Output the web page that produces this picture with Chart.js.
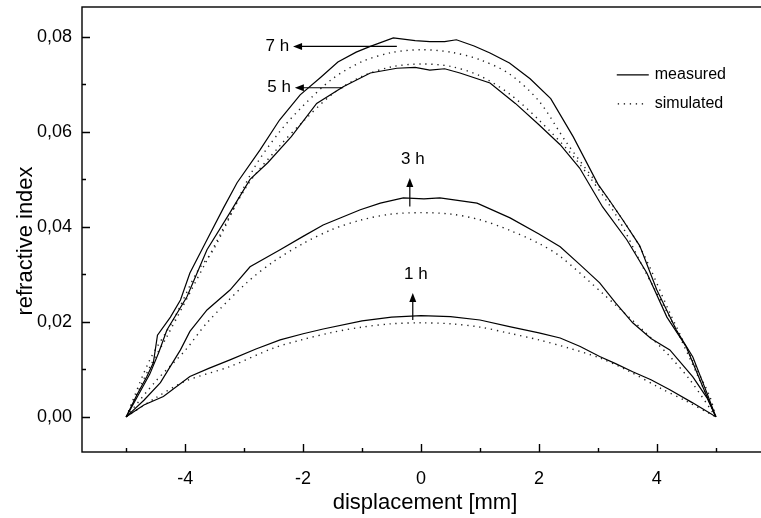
<!DOCTYPE html>
<html>
<head>
<meta charset="utf-8">
<script src="https://cdn.jsdelivr.net/npm/chart.js@4"></script>
<style>
  html, body { margin: 0; padding: 0; background: #fff; overflow: hidden; }
  #wrap { position: relative; width: 770px; height: 518px; }
</style>
</head>
<body>
<div id="wrap"><canvas id="c"></canvas></div>
<script>
// measured curves (solid)
const m7x = [-5, -4.82, -4.65, -4.54, -4.47, -4.25, -4.08, -3.92, -3.63, -3.35, -3.12, -2.73, -2.4, -2.05, -1.7, -1.41, -1.1, -0.86, -0.47, -0.1, 0.15, 0.4, 0.6, 0.9, 1.17, 1.5, 1.85, 2.2, 2.58, 3.0, 3.2, 3.42, 3.71, 4.0, 4.33, 4.61, 4.85, 5];
const m7y = [0, 0.0046, 0.0085, 0.0114, 0.0172, 0.021, 0.0246, 0.0303, 0.0373, 0.044, 0.0493, 0.0562, 0.0625, 0.0678, 0.0715, 0.0747, 0.0768, 0.078, 0.0798, 0.0792, 0.079, 0.079, 0.0794, 0.0781, 0.0766, 0.0745, 0.0712, 0.067, 0.059, 0.049, 0.0455, 0.0415, 0.036, 0.0267, 0.0183, 0.0126, 0.005, 0];
const m5x = [-5, -4.8, -4.6, -4.45, -4.31, -3.97, -3.63, -3.24, -2.9, -2.6, -2.2, -1.77, -1.32, -0.86, -0.41, -0.1, 0.15, 0.4, 0.66, 1.17, 1.6, 2.0, 2.36, 2.69, 3.08, 3.49, 3.83, 4.17, 4.5, 4.78, 5];
const m5y = [0, 0.0045, 0.009, 0.0135, 0.0183, 0.0253, 0.0352, 0.043, 0.05, 0.0535, 0.059, 0.066, 0.0695, 0.0724, 0.0734, 0.0736, 0.073, 0.0733, 0.0724, 0.0703, 0.066, 0.0615, 0.0573, 0.0524, 0.0442, 0.0373, 0.0303, 0.021, 0.0147, 0.0063, 0];
const m3x = [-5, -4.7, -4.42, -4.08, -3.92, -3.63, -3.24, -2.9, -2.39, -2.0, -1.66, -1.03, -0.69, -0.3, 0.05, 0.32, 0.95, 1.51, 2.0, 2.36, 2.7, 3.03, 3.3, 3.59, 3.9, 4.22, 4.61, 4.85, 5];
const m3y = [0, 0.0035, 0.0072, 0.0141, 0.018, 0.0225, 0.0267, 0.0316, 0.0352, 0.038, 0.0404, 0.0436, 0.045, 0.0461, 0.0459, 0.0461, 0.045, 0.0419, 0.0385, 0.0358, 0.032, 0.0282, 0.024, 0.0198, 0.0165, 0.0141, 0.0084, 0.004, 0];
const m1x = [-5, -4.7, -4.37, -3.92, -3.6, -3.24, -2.8, -2.39, -2.0, -1.66, -1.0, -0.5, 0, 0.5, 1.0, 1.5, 2.0, 2.36, 2.7, 3.03, 3.3, 3.59, 3.9, 4.22, 4.6, 5];
const m1y = [0, 0.0025, 0.0043, 0.0085, 0.0102, 0.012, 0.0143, 0.0162, 0.0175, 0.0185, 0.0202, 0.021, 0.0213, 0.0211, 0.0204, 0.019, 0.0177, 0.0166, 0.0148, 0.0127, 0.0112, 0.0095, 0.0078, 0.0057, 0.003, 0];

// simulated curves (dotted)
const s7x = [-5, -4.6, -4.2, -3.8, -3.52, -2.85, -2.4, -2.0, -1.5, -1.0, -0.5, 0, 0.5, 1.0, 1.5, 2.0, 2.47, 3.15, 3.71, 4.22, 4.6, 4.9, 5];
const s7y = [0, 0.012, 0.0204, 0.0305, 0.0352, 0.052, 0.06, 0.0655, 0.0712, 0.0748, 0.0767, 0.0773, 0.0768, 0.0752, 0.0722, 0.0665, 0.0577, 0.0463, 0.0358, 0.0219, 0.012, 0.0042, 0];
const s5x = [-5, -4.6, -4.31, -3.63, -2.96, -2.4, -2.0, -1.5, -1.0, -0.5, 0, 0.5, 1.0, 1.5, 2.0, 2.64, 3.32, 3.76, 4.33, 4.7, 5];
const s5y = [0, 0.0105, 0.0169, 0.033, 0.0485, 0.057, 0.0622, 0.068, 0.0717, 0.0737, 0.0743, 0.0738, 0.0718, 0.068, 0.0625, 0.054, 0.0422, 0.0316, 0.0183, 0.0085, 0];
const s3x = [-5, -4.5, -4.0, -3.63, -2.96, -2.5, -2.0, -1.5, -1.0, -0.5, 0, 0.5, 1.0, 1.5, 2.0, 2.36, 3.08, 3.76, 4.2, 4.56, 5];
const s3y = [0, 0.0075, 0.014, 0.0198, 0.0282, 0.0327, 0.0365, 0.0395, 0.0415, 0.0427, 0.043, 0.0427, 0.0415, 0.0393, 0.0365, 0.0338, 0.026, 0.0183, 0.013, 0.0078, 0];
const s1x = [-5, -4.5, -4.0, -3.24, -2.5, -2.0, -1.5, -1.0, -0.5, 0, 0.5, 1.0, 1.5, 2.0, 2.5, 3.03, 3.5, 4.05, 4.5, 5];
const s1y = [0, 0.004, 0.0075, 0.0106, 0.0145, 0.0163, 0.0178, 0.0189, 0.0196, 0.0198, 0.0196, 0.0189, 0.0176, 0.0162, 0.0145, 0.0124, 0.0098, 0.0061, 0.0033, 0];

// arrow notes (data units)
const noteText = ["7 h", "5 h", "3 h", "1 h"];
const noteFrom = [[-0.41, 0.078], [-1.32, 0.0693], [-0.19, 0.0443], [-0.14, 0.0204]];
const noteTo = [[-2.17, 0.078], [-2.14, 0.0693], [-0.19, 0.0503], [-0.14, 0.0261]];

const legendText = ["measured", "simulated"];
const FONT = '"Liberation Sans", Arial, Helvetica, sans-serif';

const pts = (xs, ys) => xs.map((v, i) => ({ x: v, y: ys[i] }));
const solid = (xs, ys) => ({ data: pts(xs, ys), borderColor: "#000", borderWidth: 1.2, pointRadius: 0, showLine: true, tension: 0 });
const dotted = (xs, ys) => ({ data: pts(xs, ys), borderColor: "#222", borderWidth: 1.4, borderDash: [1.3, 4.7], pointRadius: 0, showLine: true, tension: 0.3 });

function arrow(ctx, x1, y1, x2, y2) {
  const a = Math.atan2(y2 - y1, x2 - x1), L = 9, W = 3.5;
  ctx.beginPath(); ctx.moveTo(x1, y1); ctx.lineTo(x2 - Math.cos(a) * L * 0.6, y2 - Math.sin(a) * L * 0.6); ctx.stroke();
  ctx.beginPath();
  ctx.moveTo(x2, y2);
  ctx.lineTo(x2 - Math.cos(a) * L - Math.sin(a) * W, y2 - Math.sin(a) * L + Math.cos(a) * W);
  ctx.lineTo(x2 - Math.cos(a) * L + Math.sin(a) * W, y2 - Math.sin(a) * L - Math.cos(a) * W);
  ctx.closePath(); ctx.fill();
}

const paper = {
  id: "paper",
  afterDraw(chart) {
    const { ctx, chartArea: a, scales: { x, y } } = chart;
    ctx.save();
    ctx.strokeStyle = "#000"; ctx.fillStyle = "#000"; ctx.lineWidth = 1.4;
    ctx.strokeRect(a.left, a.top, a.right - a.left, a.bottom - a.top);
    // inward ticks
    ctx.beginPath();
    x.ticks.forEach(t => {
      const px = Math.round(x.getPixelForValue(t.value)) + 0.5;
      const len = Math.round(t.value) % 2 === 0 ? 8 : 4;
      ctx.moveTo(px, a.bottom); ctx.lineTo(px, a.bottom - len);
    });
    y.ticks.forEach(t => {
      const py = Math.round(y.getPixelForValue(t.value)) + 0.5;
      const len = Math.round(t.value * 100) % 2 === 0 ? 8 : 4;
      ctx.moveTo(a.left, py); ctx.lineTo(a.left + len, py);
    });
    ctx.stroke();

    // arrows + labels
    ctx.lineWidth = 1.2;
    ctx.font = "17px " + FONT;
    noteText.forEach((txt, i) => {
      const x1 = x.getPixelForValue(noteFrom[i][0]), y1 = y.getPixelForValue(noteFrom[i][1]);
      const x2 = x.getPixelForValue(noteTo[i][0]), y2 = y.getPixelForValue(noteTo[i][1]);
      arrow(ctx, x1, y1, x2, y2);
      if (Math.abs(y1 - y2) < 1) {
        ctx.textAlign = "right"; ctx.textBaseline = "middle";
        ctx.fillText(txt, x2 - 4, y2);
      } else {
        ctx.textAlign = "center"; ctx.textBaseline = "bottom";
        ctx.fillText(txt, x2 + 3, y2 - 10);
      }
    });

    // legend
    const lx = x.getPixelForValue(3.32), ly1 = y.getPixelForValue(0.072), ly2 = y.getPixelForValue(0.0659);
    ctx.lineWidth = 1.2;
    ctx.beginPath(); ctx.moveTo(lx, ly1); ctx.lineTo(lx + 32, ly1); ctx.stroke();
    ctx.setLineDash([1.3, 4.7]); ctx.lineWidth = 1.4;
    ctx.beginPath(); ctx.moveTo(lx + 1, ly2); ctx.lineTo(lx + 31, ly2); ctx.stroke();
    ctx.setLineDash([]);
    ctx.font = "16px " + FONT; ctx.textAlign = "left"; ctx.textBaseline = "middle";
    ctx.fillText(legendText[0], lx + 38, ly1);
    ctx.fillText(legendText[1], lx + 38, ly2);

    // axis titles
    ctx.font = "22px " + FONT;
    ctx.textAlign = "center"; ctx.textBaseline = "middle";
    ctx.fillText("displacement [mm]", 425, 503);
    ctx.translate(26, 241); ctx.rotate(-Math.PI / 2);
    ctx.fillText("refractive index", 0, 0);
    ctx.restore();
  }
};

new Chart(document.getElementById("c"), {
  type: "scatter",
  data: {
    datasets: [
      solid(m7x, m7y), solid(m5x, m5y), solid(m3x, m3y), solid(m1x, m1y),
      dotted(s7x, s7y), dotted(s5x, s5y), dotted(s3x, s3y), dotted(s1x, s1y)
    ]
  },
  options: {
    responsive: true,
    maintainAspectRatio: false,
    animation: false,
    layout: { padding: { top: 7, right: 7, left: 0, bottom: 0 } },
    plugins: { legend: { display: false }, tooltip: { enabled: false } },
    scales: {
      x: {
        type: "linear", min: -5.75, max: 5.8,
        afterFit: s => { s.height = 66; s.paddingLeft = 0; s.paddingRight = 0; },
        grid: { display: false, drawTicks: false },
        border: { display: false },
        ticks: {
          stepSize: 1, includeBounds: false, autoSkip: false, maxRotation: 0, padding: 16,
          color: "#000", font: { family: FONT, size: 18 },
          callback: v => (Math.round(v) % 2 === 0 ? String(Math.round(v)) : "")
        }
      },
      y: {
        type: "linear", min: -0.0074, max: 0.0863,
        afterFit: s => { s.width = 82; s.paddingTop = 0; s.paddingBottom = 0; },
        grid: { display: false, drawTicks: false },
        border: { display: false },
        ticks: {
          stepSize: 0.01, includeBounds: false, autoSkip: false, padding: 10,
          color: "#000", font: { family: FONT, size: 18 },
          callback: v => (Math.round(v * 100) % 2 === 0 ? Math.abs(v).toFixed(2).replace(".", ",") : "")
        }
      }
    }
  },
  plugins: [paper]
});
</script>
</body>
</html>
